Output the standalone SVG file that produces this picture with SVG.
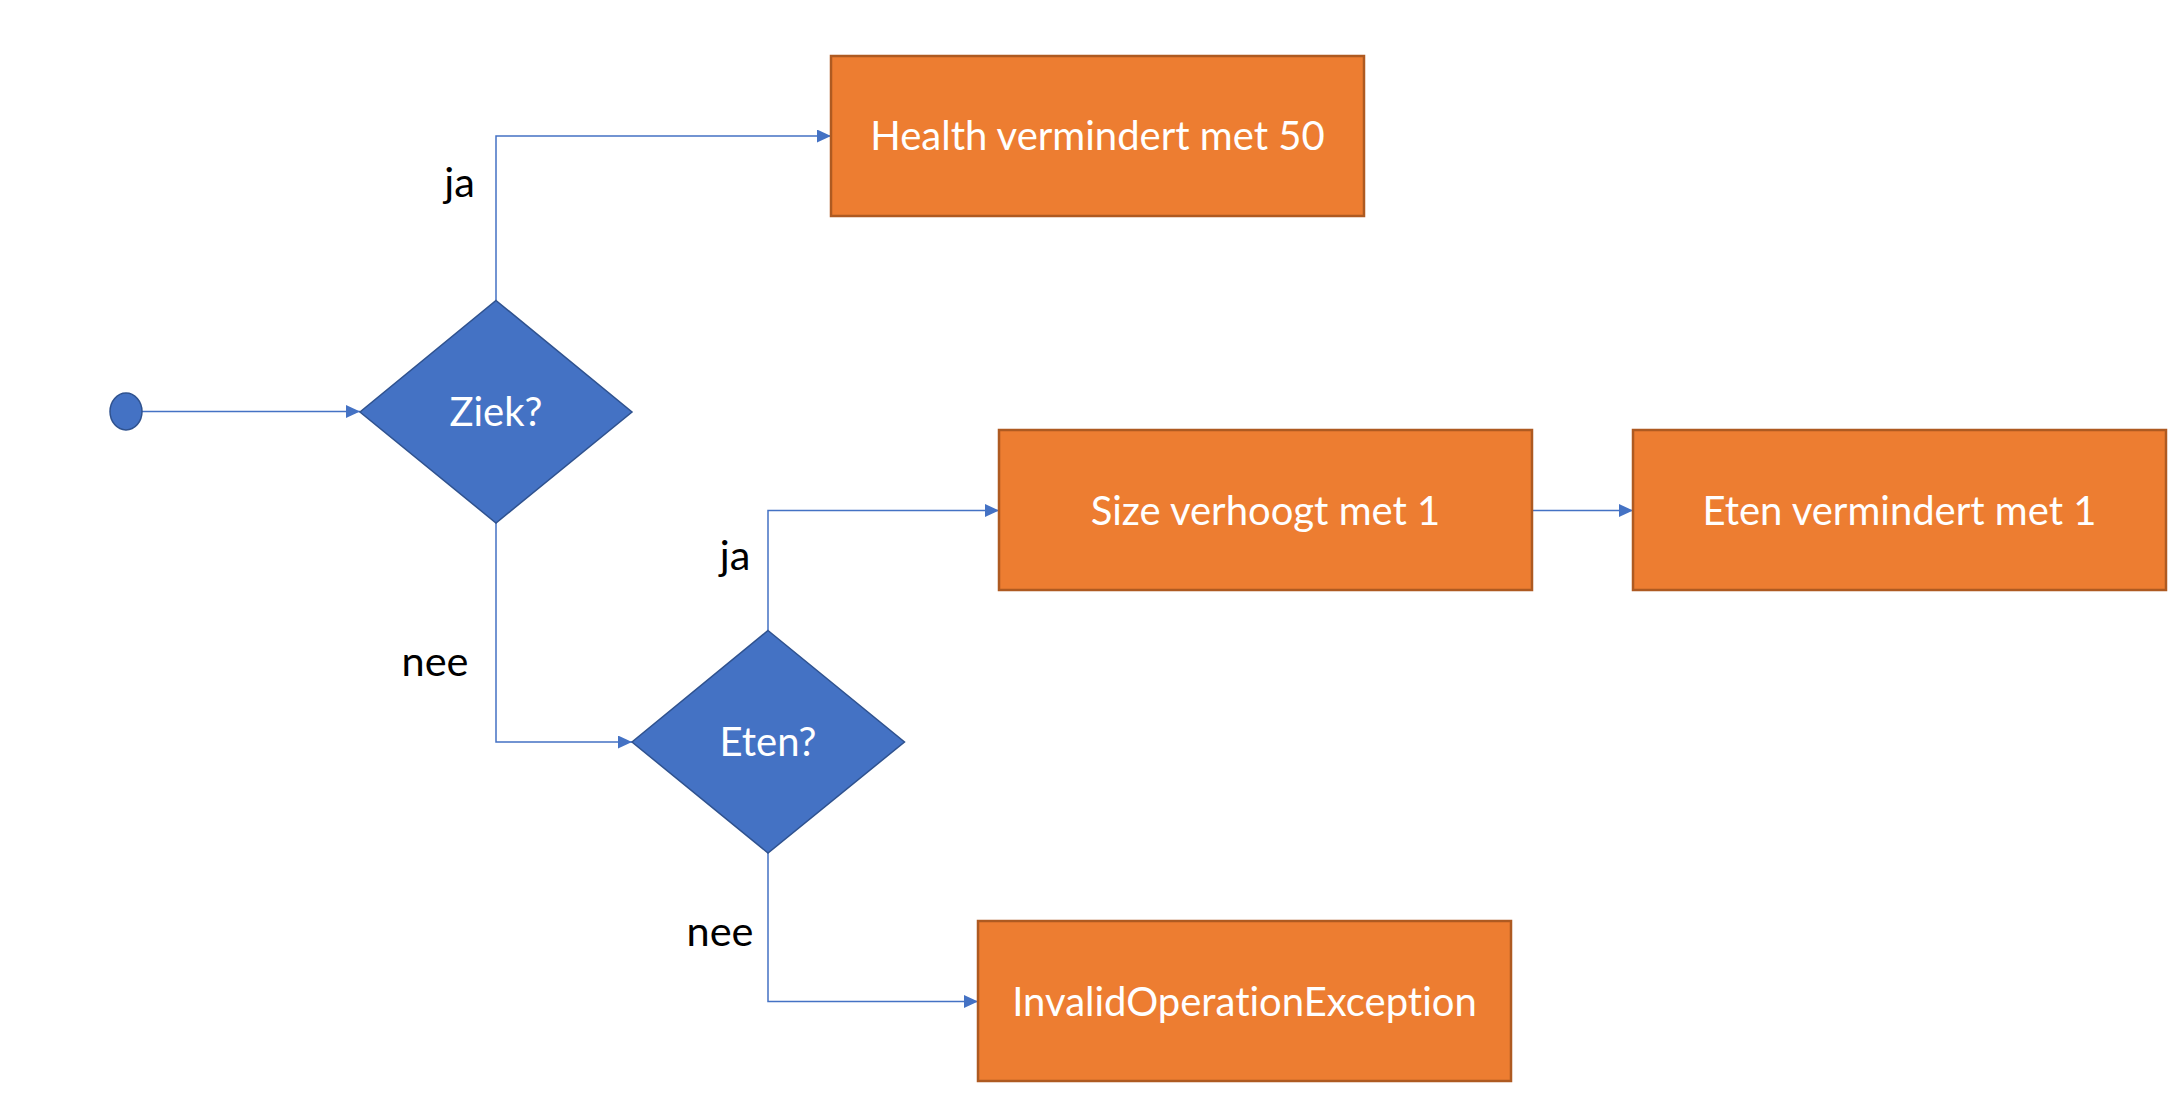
<svg xmlns="http://www.w3.org/2000/svg" width="2182" height="1106" viewBox="0 0 2182 1106">
<style>
.box{fill:#ED7D31;stroke:#AE5A21;stroke-width:2.5}
.dia{fill:#4472C4;stroke:#2F528F;stroke-width:1.5}
.conn{fill:none;stroke:#4472C4;stroke-width:1.5}
.wt{font-family:Lato,"Liberation Sans",sans-serif;font-size:40px;fill:#FFFFFF;text-anchor:middle;font-variant-ligatures:none}
.lb{font-family:Lato,"Liberation Sans",sans-serif;font-size:41.5px;fill:#000000;text-anchor:middle;font-variant-ligatures:none}
</style>
<defs>
<marker id="arr" markerWidth="14" markerHeight="14" refX="14" refY="6.5" orient="auto" markerUnits="userSpaceOnUse">
<path d="M0,0 L14,6.5 L0,13 Z" fill="#4472C4"/>
</marker>
</defs>
<rect width="2182" height="1106" fill="#FFFFFF"/>
<g id="connectors">
<path class="conn" d="M142,411.5 L360,411.5" marker-end="url(#arr)"/>
<path class="conn" d="M496,300.5 L496,136 L831,136" marker-end="url(#arr)"/>
<path class="conn" d="M496,523 L496,742 L632,742" marker-end="url(#arr)"/>
<path class="conn" d="M768,630.5 L768,510.5 L999,510.5" marker-end="url(#arr)"/>
<path class="conn" d="M1532,510.5 L1633,510.5" marker-end="url(#arr)"/>
<path class="conn" d="M768,853 L768,1001.5 L978,1001.5" marker-end="url(#arr)"/>
</g>
<g id="start"><ellipse cx="126" cy="411.5" rx="16" ry="18.5" class="dia"/></g>
<g id="ziek">
<polygon class="dia" points="496,300.5 632,412 496,523 360,412"/>
<text class="wt" x="496" y="426">Ziek?</text>
</g>
<g id="eten">
<polygon class="dia" points="768,630.5 904.5,742 768,853 632,742"/>
<text class="wt" x="768" y="756">Eten?</text>
</g>
<g id="health">
<rect class="box" x="831" y="56" width="533" height="160"/>
<text class="wt" x="1097.5" y="150">Health vermindert met 50</text>
</g>
<g id="size">
<rect class="box" x="999" y="430" width="533" height="160"/>
<text class="wt" x="1265.5" y="524.5">Size verhoogt met 1</text>
</g>
<g id="etenverm">
<rect class="box" x="1633" y="430" width="533" height="160"/>
<text class="wt" x="1899.5" y="524.5">Eten vermindert met 1</text>
</g>
<g id="invalid">
<rect class="box" x="978" y="921" width="533" height="160"/>
<text class="wt" x="1244.5" y="1015.5">InvalidOperationException</text>
</g>
<g id="labels">
<text class="lb" x="459.5" y="197">ja</text>
<text class="lb" x="435" y="676">nee</text>
<text class="lb" x="735" y="570">ja</text>
<text class="lb" x="720" y="946">nee</text>
</g>
</svg>
